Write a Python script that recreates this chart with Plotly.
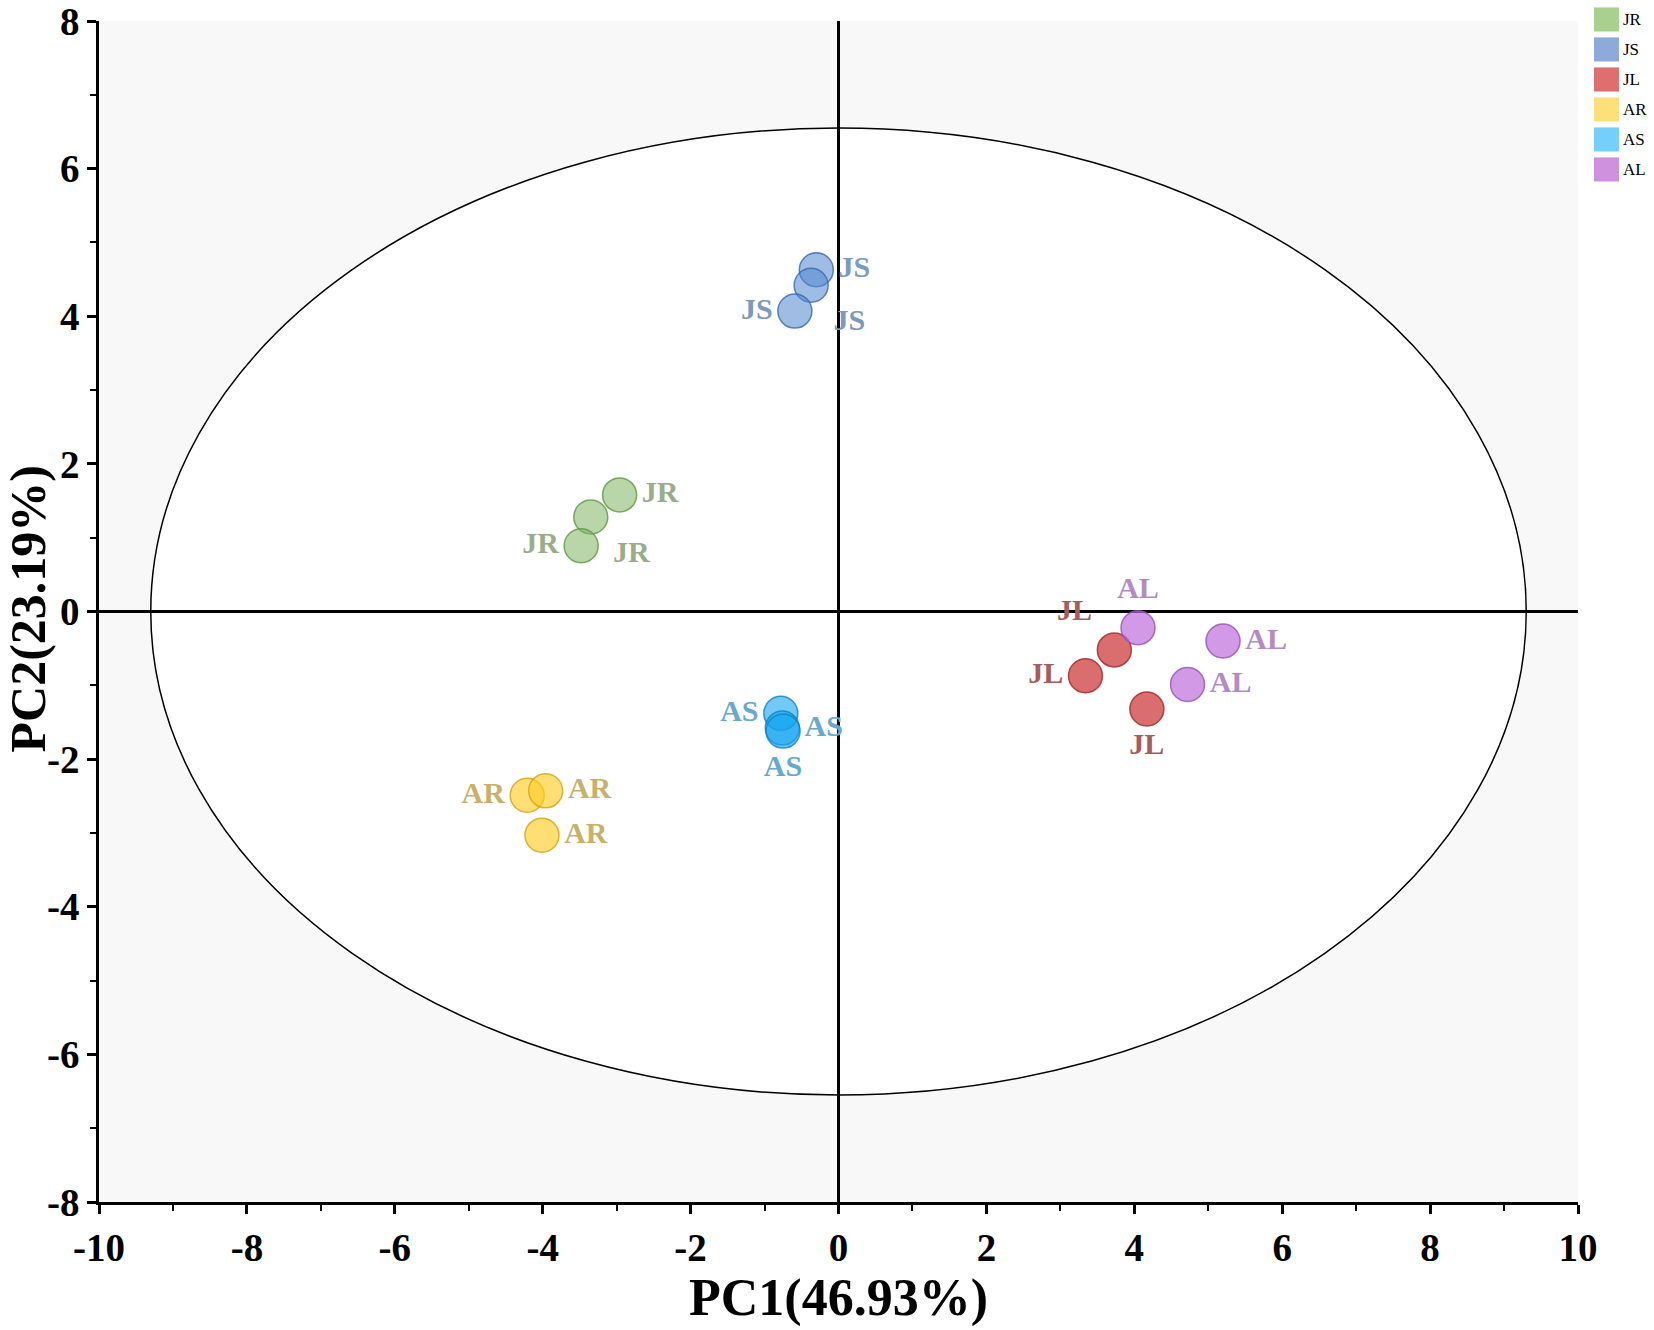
import plotly.graph_objects as go

# PCA scores per group
groups = ["JR", "JS", "JL", "AR", "AS", "AL"]
pc1 = {
    "JR": [-2.96, -3.35, -3.48],
    "JS": [-0.30, -0.37, -0.59],
    "JL": [3.73, 3.34, 4.17],
    "AR": [-4.21, -3.96, -4.01],
    "AS": [-0.78, -0.76, -0.75],
    "AL": [4.05, 5.20, 4.72],
}
pc2 = {
    "JR": [1.58, 1.28, 0.89],
    "JS": [4.63, 4.42, 4.07],
    "JL": [-0.52, -0.87, -1.32],
    "AR": [-2.49, -2.43, -3.03],
    "AS": [-1.38, -1.58, -1.62],
    "AL": [-0.22, -0.40, -0.99],
}
ellipse_a = 9.3
ellipse_b = 6.55
x_ticks = [-10, -8, -6, -4, -2, 0, 2, 4, 6, 8, 10]
y_ticks = [-8, -6, -4, -2, 0, 2, 4, 6, 8]
x_title = "PC1(46.93%)"
y_title = "PC2(23.19%)"

# styling
fill = {
    "JR": "rgba(125,180,95,0.55)",
    "JS": "rgba(80,135,205,0.55)",
    "JL": "rgba(205,60,60,0.75)",
    "AR": "rgba(255,205,40,0.65)",
    "AS": "rgba(20,165,240,0.6)",
    "AL": "rgba(190,110,220,0.7)",
}
edge = {
    "JR": "rgba(95,150,70,0.8)",
    "JS": "rgba(55,105,175,0.8)",
    "JL": "rgba(160,40,40,0.8)",
    "AR": "rgba(210,165,20,0.8)",
    "AS": "rgba(10,130,200,0.8)",
    "AL": "rgba(150,80,180,0.8)",
}
label_color = {
    "JR": "#9aad8b", "JS": "#7c99c0", "JL": "#a85c5c",
    "AR": "#c8b26a", "AS": "#67aacd", "AL": "#b48bc6",
}
legend_color = {
    "JR": "#a9d08e", "JS": "#8eaadb", "JL": "#df6f6f",
    "AR": "#fde07a", "AS": "#75cffb", "AL": "#cf90dd",
}
text_pos = {
    "JR": ["middle right", "bottom right", "middle left"],
    "JS": ["middle right", "bottom right", "middle left"],
    "JL": ["top left", "middle left", "bottom center"],
    "AR": ["middle left", "middle right", "middle right"],
    "AS": ["middle left", "middle right", "bottom center"],
    "AL": ["top center", "middle right", "middle right"],
}

serif = "Liberation Serif, Times New Roman, serif"

fig = go.Figure()
for g in groups:
    fig.add_trace(go.Scatter(
        x=pc1[g], y=pc2[g],
        mode="markers+text",
        name=g,
        text=[g] * len(pc1[g]),
        textposition=text_pos[g],
        textfont=dict(family=serif, size=30, color=label_color[g], weight="bold"),
        marker=dict(size=34, color=fill[g], line=dict(color=edge[g], width=1.5)),
        showlegend=False,
    ))

# confidence ellipse
fig.add_shape(type="circle", xref="x", yref="y",
              x0=-ellipse_a, x1=ellipse_a, y0=-ellipse_b, y1=ellipse_b,
              fillcolor="white", line=dict(color="black", width=1.5), layer="below")

# manual legend (top right, outside plot area)
for i, g in enumerate(groups):
    yc = 1.0013 - i * 0.0254
    fig.add_shape(type="rect", xref="paper", yref="paper",
                  x0=1.0108, x1=1.0277, y0=yc - 0.0102, y1=yc + 0.0102,
                  fillcolor=legend_color[g], line=dict(width=0))
    fig.add_annotation(xref="paper", yref="paper", x=1.0290, y=yc,
                       text=g, showarrow=False, xanchor="left", yanchor="middle",
                       font=dict(family=serif, size=17, color="black"))

# y axis title as rotated annotation (axis titles get clamped inside the margin)
fig.add_annotation(xref="paper", yref="paper", x=0, y=0.5, xshift=-72, yshift=2,
                   text=y_title, textangle=-90, showarrow=False,
                   xanchor="center", yanchor="middle",
                   font=dict(family=serif, size=50, color="black", weight="bold"))

axis_common = dict(
    showline=True, linecolor="black", linewidth=2.5,
    ticks="outside", ticklen=9, tickwidth=2.5, tickcolor="black",
    showgrid=False, zeroline=True, zerolinecolor="black", zerolinewidth=2.5,
    tickfont=dict(family=serif, size=39, color="black", weight="bold"),
    minor=dict(ticks="outside", dtick=1, ticklen=6, tickwidth=2, tickcolor="black", showgrid=False),
    mirror=False, automargin=False, ticklabeloverflow="allow",
)

fig.update_layout(
    width=1654, height=1330,
    margin=dict(l=99, r=76, t=21, b=128),
    paper_bgcolor="white",
    plot_bgcolor="#f8f8f8",
    xaxis=dict(range=[-10, 10], tickvals=x_ticks,
               ticktext=[str(v) for v in x_ticks],
               title=dict(text=x_title, standoff=4,
                          font=dict(family=serif, size=52, color="black", weight="bold")),
               **axis_common),
    yaxis=dict(range=[-8, 8], tickvals=y_ticks,
               ticktext=[str(v) for v in y_ticks],
               **axis_common),
)

# drop the default 8px body margin so the figure fills the window
fig.write_html("out.html", config={"displayModeBar": False},
               post_script="document.body.style.margin='0';")
